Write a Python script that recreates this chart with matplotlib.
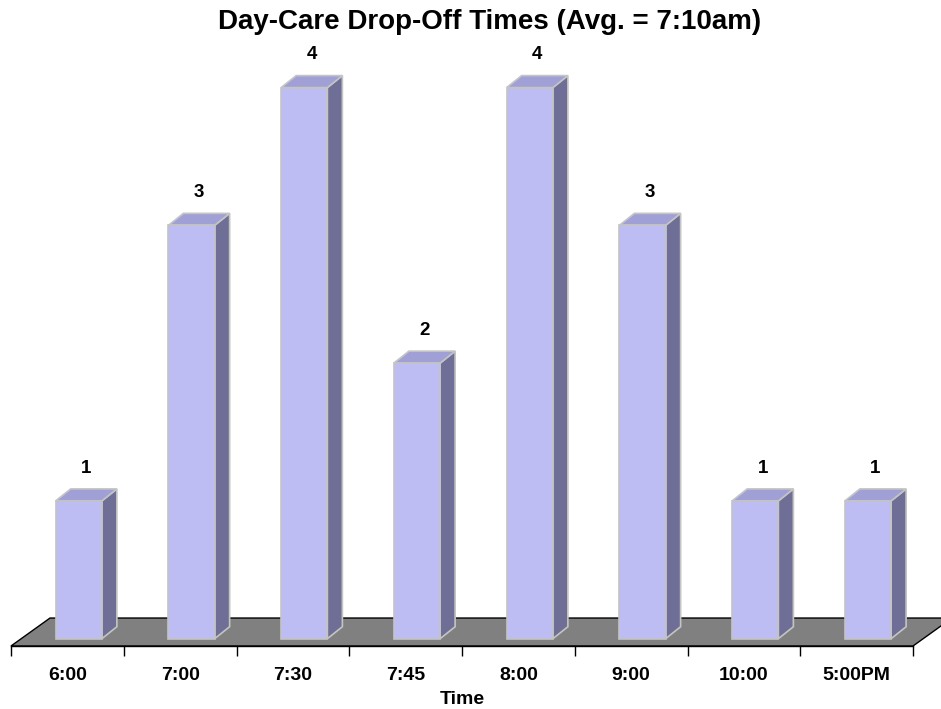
import numpy as np
import matplotlib.pyplot as plt
from matplotlib.patches import Polygon

plt.rcParams['font.family'] = ['Liberation Sans', 'DejaVu Sans']

# data
times = ["6:00", "7:00", "7:30", "7:45", "8:00", "9:00", "10:00", "5:00PM"]
counts = [1, 3, 4, 2, 4, 3, 1, 1]
title = "Day-Care Drop-Off Times (Avg. = 7:10am)"
xlabel = "Time"

# 3d look (in data units)
floor_dx, floor_dy = 0.346, 0.203
bar_dx, bar_dy = 0.133, 0.087
bar_left, bar_w, bar_base = 0.396, 0.41, 0.053

front_c = "#bdbdf3"
side_c = "#6e6e96"
top_c = "#a0a0d6"
edge_c = "#c4c4c4"

fig = plt.figure(figsize=(9.41, 7.09), dpi=100)
ax = fig.add_axes([11 / 941, 63 / 709, 902 / 941, 620 / 709])
n = len(times)
ax.set_xlim(0, n)
ax.set_ylim(0, 4.5)

# floor
floor = Polygon([(0, 0), (n, 0), (n + floor_dx, floor_dy), (floor_dx, floor_dy)],
                closed=True, facecolor="#808080", edgecolor="black", lw=1.0,
                clip_on=False, zorder=1)
ax.add_patch(floor)

for i, v in enumerate(counts):
    x0 = i + bar_left
    x1 = x0 + bar_w
    y0 = bar_base
    y1 = bar_base + v
    side = Polygon([(x1, y0), (x1 + bar_dx, y0 + bar_dy), (x1 + bar_dx, y1 + bar_dy), (x1, y1)],
                   closed=True, facecolor=side_c, edgecolor=edge_c, lw=1.2, zorder=2)
    top = Polygon([(x0, y1), (x1, y1), (x1 + bar_dx, y1 + bar_dy), (x0 + bar_dx, y1 + bar_dy)],
                  closed=True, facecolor=top_c, edgecolor=edge_c, lw=1.2, zorder=2)
    front = Polygon([(x0, y0), (x1, y0), (x1, y1), (x0, y1)],
                    closed=True, facecolor=front_c, edgecolor=edge_c, lw=1.2, zorder=3)
    for p in (side, top, front):
        ax.add_patch(p)
    ax.text(x0 + bar_w / 2 + bar_dx / 2, y1 + bar_dy + 0.15, str(v),
            ha="center", va="center", fontsize=13.5, fontweight="bold")

for s in ("left", "right", "top"):
    ax.spines[s].set_visible(False)
ax.spines["bottom"].set_linewidth(1.0)
ax.set_yticks([])
ax.set_xticks(np.arange(n + 1))
ax.set_xticklabels([])
ax.tick_params(axis="x", which="major", length=7.5, width=1.0, direction="out")
ax.set_xticks(np.arange(n) + 0.5, minor=True)
ax.set_xticklabels(times, minor=True, fontsize=14, fontweight="bold")
ax.tick_params(axis="x", which="minor", length=0, pad=15)
ax.set_xlabel(xlabel, fontsize=14, fontweight="bold", labelpad=5)

fig.text(490 / 941, 1 - 22 / 709, title, ha="center", va="center",
         fontsize=20, fontweight="bold")

fig.savefig("out.png", dpi=100)
